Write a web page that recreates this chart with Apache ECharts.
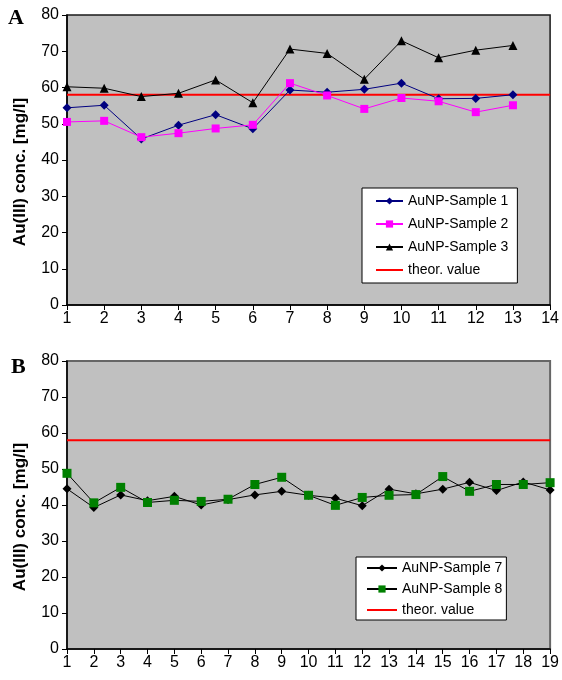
<!DOCTYPE html>
<html>
<head>
<meta charset="utf-8">
<script src="https://cdn.jsdelivr.net/npm/echarts@6/dist/echarts.min.js"></script>
<style>
  html, body { margin: 0; padding: 0; background: #fff; }
  #chart { width: 562px; height: 680px; }
</style>
</head>
<body>
<div id="chart"></div>
<script>
// panel A
const samplesA = [1, 2, 3, 4, 5, 6, 7, 8, 9, 10, 11, 12, 13]
const sample1 = [54.4, 55.1, 45.8, 49.6, 52.5, 48.6, 59.3, 58.7, 59.5, 61.2, 56.9, 57.0, 58.0]
const sample2 = [50.5, 50.8, 46.3, 47.4, 48.7, 49.7, 61.2, 57.8, 54.1, 57.1, 56.2, 53.2, 55.1]
const sample3 = [60.2, 59.8, 57.5, 58.4, 62.1, 55.8, 70.6, 69.4, 62.3, 72.9, 68.2, 70.3, 71.6]
const xRangeA = [1, 14]

// panel B
const samplesB = [1, 2, 3, 4, 5, 6, 7, 8, 9, 10, 11, 12, 13, 14, 15, 16, 17, 18, 19]
const sample7 = [44.5, 39.3, 42.8, 41.2, 42.4, 40.0, 41.5, 42.8, 43.8, 42.7, 41.9, 39.8, 44.4, 43.1, 44.4, 46.3, 44.0, 46.4, 44.2]
const sample8 = [48.8, 40.6, 44.9, 40.7, 41.3, 41.0, 41.6, 45.7, 47.7, 42.7, 39.9, 42.1, 42.7, 42.9, 47.9, 43.8, 45.7, 45.7, 46.2]
const xRangeB = [1, 19]

const theorValue = 58
const yTicks = [0, 80, 10] // min, max, interval
const yTitle = 'Au(III) conc. [mg/l]'

const font = '"Liberation Sans", Arial, sans-serif'

function pairs(xs, ys) {
  return xs.map((x, i) => [x, ys[i]])
}

function xAxisOf(gridIndex, range) {
  return {
    type: 'value',
    gridIndex,
    min: range[0],
    max: range[1],
    interval: 1,
    axisLine: { lineStyle: { color: '#000', width: 1.5 } },
    axisTick: { inside: false, length: 5, lineStyle: { color: '#000' } },
    axisLabel: { color: '#000', fontSize: 16, fontFamily: font, margin: 6, showMaxLabel: true },
    splitLine: { show: false },
  }
}

function yAxisOf(gridIndex) {
  return {
    type: 'value',
    gridIndex,
    min: yTicks[0],
    max: yTicks[1],
    interval: yTicks[2],
    axisLine: { show: true, lineStyle: { color: '#000', width: 1.5 } },
    axisTick: { show: true, length: 5, lineStyle: { color: '#000' } },
    axisLabel: { color: '#000', fontSize: 16, fontFamily: font, margin: 8 },
    splitLine: { show: false },
  }
}

function lineSeries(name, idx, data, color, lineColor, symbol, size) {
  return {
    name,
    type: 'line',
    xAxisIndex: idx,
    yAxisIndex: idx,
    data,
    symbol,
    symbolSize: size,
    lineStyle: { color: lineColor, width: 1 },
    itemStyle: { color },
    z: 3,
    animation: false,
  }
}

function theorSeries(idx, range) {
  return {
    name: 'theor. value',
    type: 'line',
    xAxisIndex: idx,
    yAxisIndex: idx,
    data: range.map((x) => [x, theorValue]),
    symbol: 'none',
    lineStyle: { color: '#ff0000', width: 2 },
    itemStyle: { color: '#ff0000' },
    z: 2,
    animation: false,
  }
}

const legendText = { color: '#000', fontSize: 14, fontFamily: font, lineHeight: 14 }
const theorLegend = { name: 'theor. value', itemStyle: { opacity: 0 } }

const chart = echarts.init(document.getElementById('chart'), null, { renderer: 'canvas' })

chart.setOption({
  backgroundColor: '#fff',
  animation: false,
  textStyle: { fontFamily: font },
  grid: [
    { left: 67, top: 15, width: 484, height: 290, show: true, backgroundColor: '#c0c0c0', borderColor: '#1a1a1a', borderWidth: 1.5 },
    { left: 67, top: 361, width: 486, height: 288, show: true, backgroundColor: '#c0c0c0', borderColor: '#666', borderWidth: 2 },
  ],
  xAxis: [xAxisOf(0, xRangeA), xAxisOf(1, xRangeB)],
  yAxis: [yAxisOf(0), yAxisOf(1)],
  legend: [
    {
      data: ['AuNP-Sample 1', 'AuNP-Sample 2', 'AuNP-Sample 3', theorLegend],
      orient: 'vertical',
      left: 362,
      top: 188,
      itemWidth: 27,
      itemHeight: 9,
      itemGap: 9,
      padding: [6, 9, 6, 13],
      backgroundColor: '#fff',
      borderColor: '#000',
      borderWidth: 1,
      textStyle: legendText,
      selectedMode: false,
    },
    {
      data: ['AuNP-Sample 7', 'AuNP-Sample 8', theorLegend],
      orient: 'vertical',
      left: 356,
      top: 557,
      itemWidth: 30,
      itemHeight: 9,
      itemGap: 7,
      padding: [4, 4, 3, 10],
      backgroundColor: '#fff',
      borderColor: '#000',
      borderWidth: 1,
      textStyle: legendText,
      selectedMode: false,
    },
  ],
  graphic: [
    { type: 'text', left: 8, top: 7, style: { text: 'A', font: 'bold 22px "Liberation Serif", "Times New Roman", serif', fill: '#000' } },
    { type: 'text', left: 11, top: 356, style: { text: 'B', font: 'bold 22px "Liberation Serif", "Times New Roman", serif', fill: '#000' } },
    {
      type: 'text', x: 20, y: 172, rotation: Math.PI / 2,
      style: { text: yTitle, font: 'bold 17px "Liberation Sans", Arial, sans-serif', fill: '#000', align: 'center', verticalAlign: 'middle' },
    },
    {
      type: 'text', x: 20, y: 517, rotation: Math.PI / 2,
      style: { text: yTitle, font: 'bold 17px "Liberation Sans", Arial, sans-serif', fill: '#000', align: 'center', verticalAlign: 'middle' },
    },
  ],
  series: [
    lineSeries('AuNP-Sample 1', 0, pairs(samplesA, sample1), '#000080', '#000080', 'diamond', 9),
    lineSeries('AuNP-Sample 2', 0, pairs(samplesA, sample2), '#ff00ff', '#ff00ff', 'rect', 8),
    lineSeries('AuNP-Sample 3', 0, pairs(samplesA, sample3), '#000', '#000', 'triangle', 9),
    theorSeries(0, xRangeA),
    lineSeries('AuNP-Sample 7', 1, pairs(samplesB, sample7), '#000', '#000', 'diamond', 9),
    lineSeries('AuNP-Sample 8', 1, pairs(samplesB, sample8), '#008000', '#000', 'rect', 9),
    theorSeries(1, xRangeB),
  ],
})
</script>
</body>
</html>
